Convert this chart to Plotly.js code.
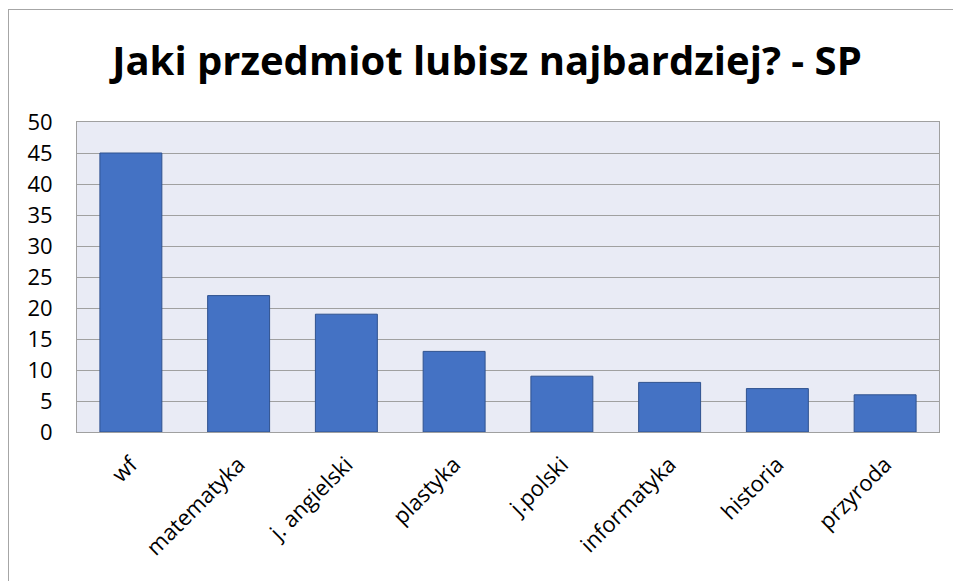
<!DOCTYPE html>
<html>
<head>
<meta charset="utf-8">
<script src="https://cdn.plot.ly/plotly-3.0.1.min.js"></script>
<style>
html,body{margin:0;padding:0;background:#fff;overflow:hidden;}
#frame{position:absolute;left:8px;top:9px;width:2000px;height:2000px;border-left:1px solid #a6a6a6;border-top:1px solid #a6a6a6;}
#chart{position:absolute;left:0;top:0;width:953px;height:581px;}
</style>
</head>
<body>
<div id="frame"></div>
<div id="chart"></div>
<script>
const categories = ["wf", "matematyka", "j. angielski", "plastyka", "j.polski", "informatyka", "historia", "przyroda"];
const values = [45, 22, 19, 13, 9, 8, 7, 6];
const yTicks = [0, 5, 10, 15, 20, 25, 30, 35, 40, 45, 50];

const FONT = "Open Sans, Noto Sans, sans-serif";

Plotly.newPlot("chart", [{
  type: "bar",
  x: categories,
  y: values,
  marker: {color: "#4472C4", line: {color: "#2F528F", width: 1}},
  hoverinfo: "none"
}], {
  width: 953, height: 581,
  margin: {l: 77, r: 14, t: 122, b: 149, pad: 0},
  paper_bgcolor: "rgba(0,0,0,0)",
  plot_bgcolor: "#E9EBF5",
  bargap: 0.425,
  showlegend: false,
  title: {
    text: "<b>Jaki przedmiot lubisz najbardziej? - SP</b>",
    font: {family: FONT, size: 40, color: "#000"},
    x: 0.511, xref: "container", xanchor: "center",
    y: 0.895, yref: "container", yanchor: "middle"
  },
  xaxis: {
    type: "category",
    tickangle: -45,
    tickfont: {family: FONT, size: 22, color: "#000"},
    showline: true, linecolor: "#a0a0a0", linewidth: 1, mirror: true,
    showgrid: false, ticks: "", ticklabelstandoff: 10, fixedrange: true
  },
  yaxis: {
    range: [0, 50],
    tickvals: yTicks,
    ticktext: yTicks.map(String),
    tickfont: {family: FONT, size: 22, color: "#000"},
    showline: true, linecolor: "#a0a0a0", linewidth: 1, mirror: true,
    showgrid: true, gridcolor: "#a0a0a0", gridwidth: 1,
    zeroline: false, ticks: "", ticklabelstandoff: 19, fixedrange: true
  }
}, {displayModeBar: false, staticPlot: true});
</script>
</body>
</html>
